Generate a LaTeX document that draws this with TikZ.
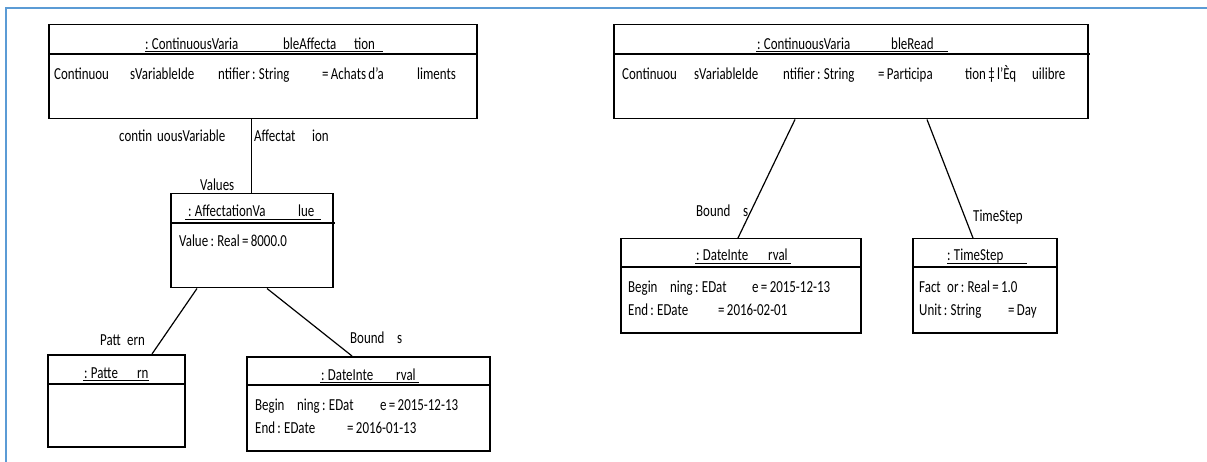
\documentclass[tikz,border=0pt]{standalone}
\usepackage{fontspec}
\setmainfont{Carlito}[FakeStretch=0.77,WordSpace=0.8]
\definecolor{frameblue}{RGB}{91,155,213}
\newcommand{\seg}[2]{\makebox[#1pt][l]{#2}}
\begin{document}
\begin{tikzpicture}[x=1pt,y=-1pt,
  objbox/.style={draw=black,line width=1.5pt,inner sep=0pt,anchor=north west},
  txt/.style={anchor=base west,inner sep=0pt,font=\fontsize{16.8}{20}\selectfont},
  conn/.style={draw=black,line width=1.2pt},
  sepline/.style={draw=black,line width=1.5pt},
  uline/.style={draw=black,line width=0.9pt}]
\useasboundingbox (0,0) rectangle (1207,462);
\fill[white] (0,0) rectangle (1207,462);
% frame
\draw[frameblue,line width=2.5pt] (6,462) -- (6,8) -- (1207,8);

% ---- boxes
\node[objbox,minimum width=428pt,minimum height=94pt] (b1) at (48,24) {};
\node[objbox,minimum width=162pt,minimum height=94pt] (b2) at (170,193) {};
\node[objbox,minimum width=137pt,minimum height=92pt] (b3) at (47,354) {};
\node[objbox,minimum width=243pt,minimum height=94pt] (b4) at (246,356) {};
\node[objbox,minimum width=474pt,minimum height=94pt] (b5) at (613,24) {};
\node[objbox,minimum width=240pt,minimum height=94pt] (b6) at (620,238) {};
\node[objbox,minimum width=144pt,minimum height=94pt] (b7) at (912,238) {};

% separators
\draw[sepline] (48,54) -- (478,54);
\draw[sepline] (170,223) -- (335,223);
\draw[sepline] (47,384) -- (186,384);
\draw[sepline] (246,385) -- (491,385);
\draw[sepline] (613,54) -- (1090,54);
\draw[sepline] (620,267) -- (862,267);
\draw[sepline] (912,267) -- (1058,267);

% title underlines
\draw[uline] (145,51) -- (383,51);
\draw[uline] (185,219) -- (321,219);
\draw[uline] (83,380) -- (149,380);
\draw[uline] (320,382) -- (419,382);
\draw[uline] (756,51) -- (948,51);
\draw[uline] (695,263) -- (791,263);
\draw[uline] (947,263) -- (1027,263);

% ---- texts box 1
\node[txt] (t1a) at (145,50) {\seg{138}{: ContinuousVaria}\seg{71}{bleAffecta}tion};
\node[txt] (t1b) at (54,80) {\seg{76}{Continuou}\seg{88}{sVariableIde}\seg{104}{ntifier : String}\seg{95}{= Achats d'a}liments};
% box 5
\node[txt] (t5a) at (757,50) {\seg{134}{: ContinuousVaria}bleRead};
\node[txt] (t5b) at (622,80) {\seg{72}{Continuou}\seg{89}{sVariableIde}\seg{95}{ntifier : String}\seg{87}{= Participa}\seg{67}{tion ‡ l'Èq}uilibre};
% box 2
\node[txt] (t2a) at (188,217) {\seg{110}{: AffectationVa}lue};
\node[txt] (t2b) at (179,247) {Value : Real = 8000.0};
% box 3
\node[txt] (t3a) at (84,378) {\seg{53}{: Patte}rn};
% box 4
\node[txt] (t4a) at (321,380) {\seg{75}{: DateInte}rval};
\node[txt] (t4b) at (255,410) {\seg{42}{Begin}\seg{83}{ning : EDat}e = 2015-12-13};
\node[txt] (t4c) at (255,433) {\seg{92}{End : EDate}= 2016-01-13};
% box 6
\node[txt] (t6a) at (696,261) {\seg{72}{: DateInte}rval};
\node[txt] (t6b) at (628,292) {\seg{42}{Begin}\seg{82}{ning : EDat}e = 2015-12-13};
\node[txt] (t6c) at (628,316) {\seg{90}{End : EDate}= 2016-02-01};
% box 7
\node[txt] (t7a) at (947,261) {: TimeStep};
\node[txt] (t7b) at (919,292) {\seg{28}{Fact}or : Real = 1.0};
\node[txt] (t7c) at (919,316) {\seg{89}{Unit : String}= Day};

% ---- connectors
\draw[conn] (b2.north) -- (b2.north |- b1.south);
\draw[conn] ([xshift=27pt]b2.south west) -- ([xshift=105pt]b3.north west);
\draw[conn] ([xshift=97pt]b2.south west) -- ([xshift=106pt]b4.north west);
\draw[conn] ([xshift=182pt]b5.south west) -- ([xshift=118pt]b6.north west);
\draw[conn] ([xshift=314pt]b5.south west) -- ([xshift=61pt]b7.north west);

% ---- connector labels
\node[txt] (l1) at (119,142) {\seg{38}{contin}uousVariable};
\node[txt] (l2) at (254,142) {\seg{58}{Affectat}ion};
\node[txt] (l3) at (200,191) {Values};
\node[txt] (l4) at (100,345) {\seg{27}{Patt}ern};
\node[txt] (l5) at (350,343) {\seg{47}{Bound}s};
\node[txt] (l6) at (696,217) {\seg{47}{Bound}s};
\node[txt] (l7) at (973,222) {TimeStep};
\end{tikzpicture}
\end{document}
